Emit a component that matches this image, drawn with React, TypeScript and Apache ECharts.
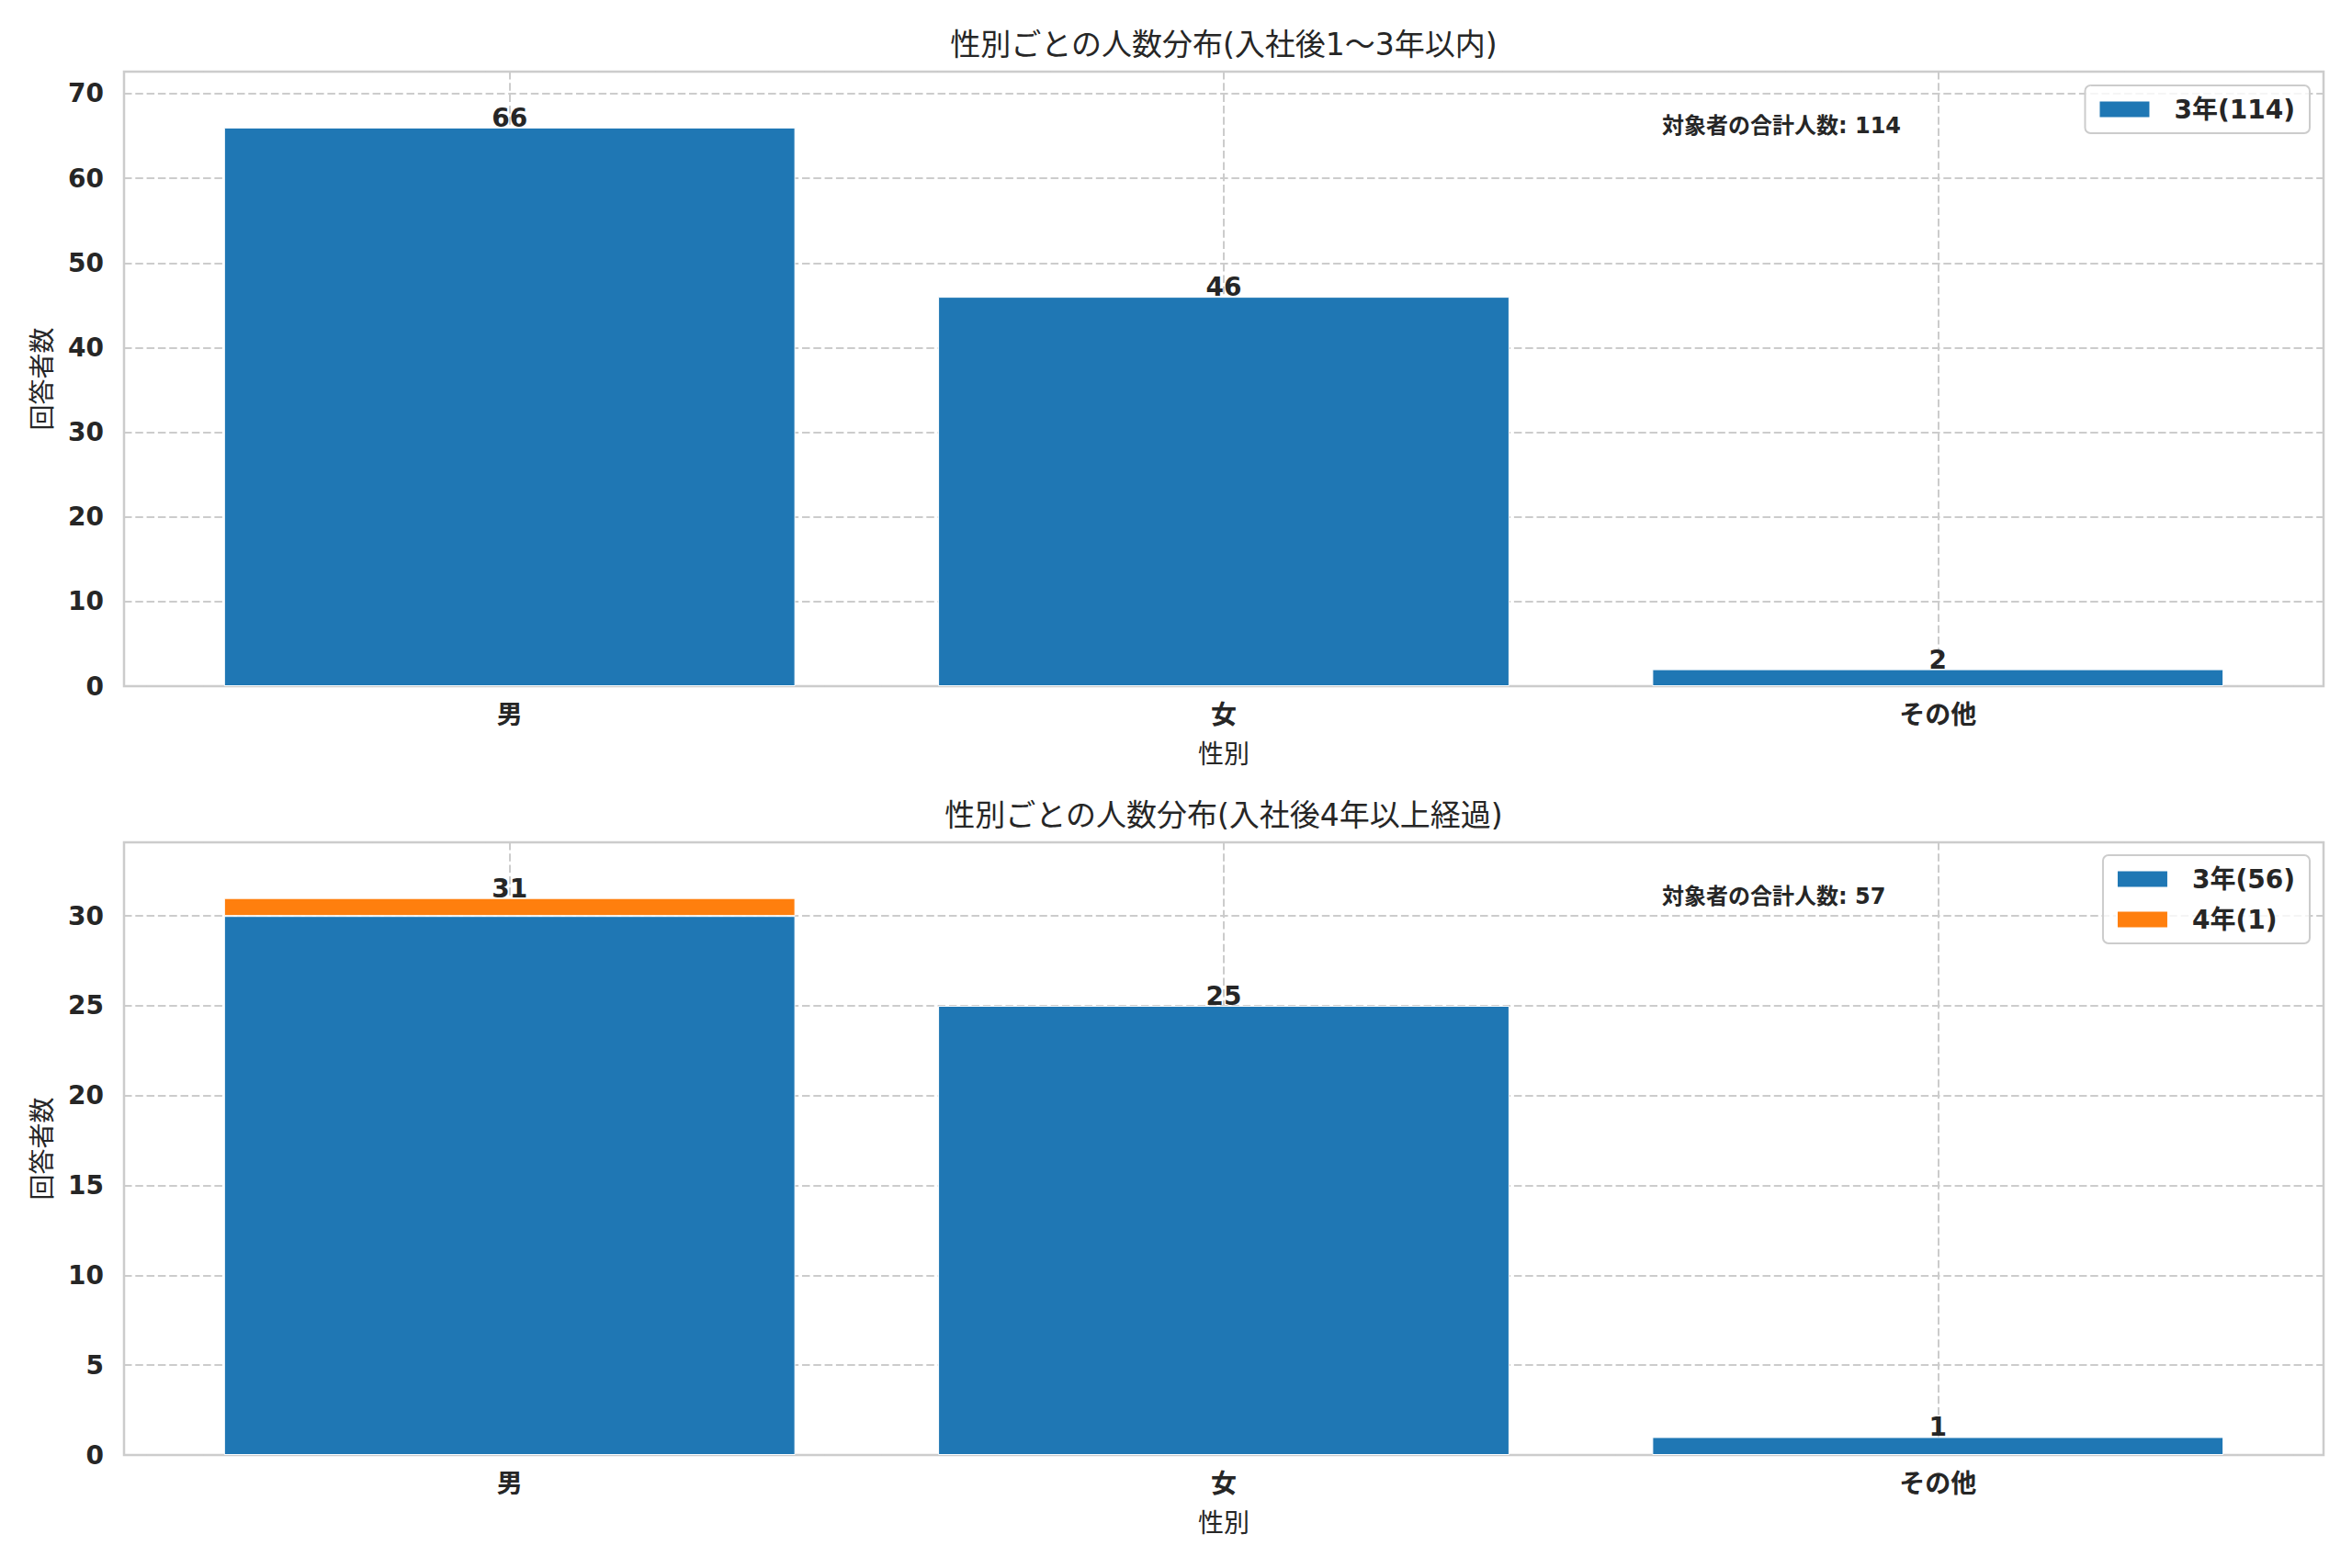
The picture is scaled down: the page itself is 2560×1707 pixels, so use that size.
import React, { useEffect, useRef } from 'react';
import * as echarts from 'echarts';

// ---- data ----
const categories = ['男', '女', 'その他'];
const topGrades = ['3年'];
const topValues3 = [66, 46, 2];
const bottomGrades = ['3年', '4年'];
const bottomValues3 = [30, 25, 1];
const bottomValues4 = [1, 0, 0];
const topTitle = '性別ごとの人数分布(入社後1～3年以内)';
const bottomTitle = '性別ごとの人数分布(入社後4年以上経過)';
const xName = '性別';
const yName = '回答者数';
const totalLabel = '対象者の合計人数';
const topYMax = 72.6;
const topYInterval = 10;
const bottomYMax = 34.1;
const bottomYInterval = 5;
const xMin = -0.54;
const xMax = 2.54;

// ---- layout / style ----
const W = 2560;
const H = 1707;
const GRID_LEFT = 135;
const GRID_WIDTH = 2394;
const TOP_GRID = { top: 78, height: 669 };
const BOTTOM_GRID = { top: 917, height: 667 };
const TEXT = '#262626';
const GRIDC = '#cccccc';
const FONT = '"DejaVu Sans", "Noto Sans CJK JP", sans-serif';
const BLUE = '#1f77b4';
const ORANGE = '#ff7f0e';

const sum = (a: number[]) => a.reduce((s, v) => s + v, 0);

export default function App() {
  const ref = useRef<HTMLDivElement>(null);
  useEffect(() => {
    if (!ref.current) return;
    const chart = echarts.init(ref.current, null, { renderer: 'svg' });
    const barWidth = (0.8 * GRID_WIDTH) / (xMax - xMin);
    const catIdx = categories.map((_, i) => i);

    const topTotals = topValues3.slice();
    const bottomTotals = bottomValues3.map((v, i) => v + bottomValues4[i]);
    const topName = `${topGrades[0]}(${sum(topValues3)})`;
    const bName3 = `${bottomGrades[0]}(${sum(bottomValues3)})`;
    const bName4 = `${bottomGrades[1]}(${sum(bottomValues4)})`;

    const dashed = { color: GRIDC, width: 2, type: [8.5, 3.8] as any };

    const xAxis = (gridIndex: number) => ({
      type: 'value',
      gridIndex,
      min: xMin,
      max: xMax,
      axisLine: { show: false },
      axisTick: { show: false, customValues: catIdx },
      axisLabel: {
        customValues: catIdx,
        formatter: (v: number) => categories[Math.round(v)] ?? '',
        margin: 17,
        fontSize: 28,
        lineHeight: 28,
        fontWeight: 'bold',
        color: TEXT,
        fontFamily: FONT,
      },
      splitLine: { show: true, lineStyle: dashed },
      name: xName,
      nameLocation: 'middle',
      nameGap: 60,
      nameTextStyle: { fontSize: 28, lineHeight: 28, color: TEXT, fontFamily: FONT },
    });

    const yAxis = (gridIndex: number, max: number, interval: number) => ({
      type: 'value',
      gridIndex,
      min: 0,
      max,
      interval,
      axisLine: { show: false },
      axisTick: { show: false },
      axisLabel: {
        formatter: (v: number) => (Math.abs(v / interval - Math.round(v / interval)) < 1e-6 ? String(v) : ''),
        margin: 22,
        fontSize: 28,
        fontWeight: 'bold',
        color: TEXT,
        fontFamily: FONT,
      },
      splitLine: { show: true, lineStyle: dashed },
      name: yName,
      nameLocation: 'middle',
      nameGap: 75,
      nameTextStyle: { fontSize: 28, lineHeight: 28, color: TEXT, fontFamily: FONT },
    });

    const legend = (top: number, names: string[]) => ({
      orient: 'vertical',
      right: W - 2514,
      top,
      data: names,
      icon: 'rect',
      itemWidth: 56,
      itemHeight: 19,
      itemGap: 14,
      padding: [11, 16, 11, 14],
      borderColor: GRIDC,
      borderWidth: 2,
      borderRadius: 6,
      backgroundColor: 'rgba(255,255,255,0.8)',
      selectedMode: false,
      textStyle: {
        fontSize: 28,
        lineHeight: 30,
        fontWeight: 'bold',
        color: TEXT,
        fontFamily: FONT,
        padding: [0, 0, 0, 21],
      },
    });

    const labelSeries = (axisIndex: number, totals: number[]) => ({
      type: 'scatter',
      xAxisIndex: axisIndex,
      yAxisIndex: axisIndex,
      data: totals.map((t, i) => [i, t]),
      symbolSize: 1,
      itemStyle: { color: 'rgba(0,0,0,0)' },
      silent: true,
      z: 5,
      label: {
        show: true,
        position: 'top',
        distance: -4,
        formatter: (p: any) => String(p.value[1]),
        fontSize: 28,
        fontWeight: 'bold',
        color: TEXT,
        opacity: 1,
        textBorderWidth: 0,
        fontFamily: FONT,
      },
    });

    const barItem = (color: string) => ({ color, borderColor: '#ffffff', borderWidth: 1 });
    // data order [value, categoryIndex] with encode so stacking runs on y
    const barData = (vals: number[]) =>
      vals.map((v, i) => (v > 0 ? [v, i] : { value: [v, i], itemStyle: { borderWidth: 0 } }));

    const textEl = (x: number, y: number, text: string, size: number, weight: string, align: string) => ({
      type: 'text',
      x,
      y,
      z: 10,
      style: {
        text,
        fill: TEXT,
        fontSize: size,
        fontWeight: weight,
        fontFamily: FONT,
        align,
        verticalAlign: 'middle',
      },
    });

    chart.setOption({
      animation: false,
      backgroundColor: '#ffffff',
      grid: [
        { left: GRID_LEFT, width: GRID_WIDTH, top: TOP_GRID.top, height: TOP_GRID.height, show: true, borderColor: GRIDC, borderWidth: 2.5, backgroundColor: 'transparent' },
        { left: GRID_LEFT, width: GRID_WIDTH, top: BOTTOM_GRID.top, height: BOTTOM_GRID.height, show: true, borderColor: GRIDC, borderWidth: 2.5, backgroundColor: 'transparent' },
      ],
      xAxis: [xAxis(0), xAxis(1)],
      yAxis: [yAxis(0, topYMax, topYInterval), yAxis(1, bottomYMax, bottomYInterval)],
      legend: [legend(93, [topName]), legend(931, [bName3, bName4])],
      series: [
        {
          type: 'bar',
          name: topName,
          xAxisIndex: 0,
          yAxisIndex: 0,
          barWidth,
          encode: { x: 1, y: 0 },
          data: barData(topValues3),
          itemStyle: barItem(BLUE),
        },
        {
          type: 'bar',
          name: bName3,
          xAxisIndex: 1,
          yAxisIndex: 1,
          stack: 'b',
          barWidth,
          encode: { x: 1, y: 0 },
          data: barData(bottomValues3),
          itemStyle: barItem(BLUE),
        },
        {
          type: 'bar',
          name: bName4,
          xAxisIndex: 1,
          yAxisIndex: 1,
          stack: 'b',
          barWidth,
          encode: { x: 1, y: 0 },
          data: barData(bottomValues4),
          itemStyle: barItem(ORANGE),
        },
        labelSeries(0, topTotals),
        labelSeries(1, bottomTotals),
      ],
      graphic: [
        textEl(GRID_LEFT + GRID_WIDTH / 2, 48, topTitle, 33, 'normal', 'center'),
        textEl(GRID_LEFT + GRID_WIDTH / 2, 887, bottomTitle, 33, 'normal', 'center'),
        textEl(1809, 137, `${totalLabel}: ${sum(topValues3)}`, 24, 'bold', 'left'),
        textEl(1809, 976, `${totalLabel}: ${sum(bottomValues3) + sum(bottomValues4)}`, 24, 'bold', 'left'),
      ],
    });
    return () => chart.dispose();
  }, []);
  return (
    <div
      ref={ref}
      style={{ position: 'fixed', left: 0, top: 0, width: W, height: H, background: '#ffffff' }}
    />
  );
}
